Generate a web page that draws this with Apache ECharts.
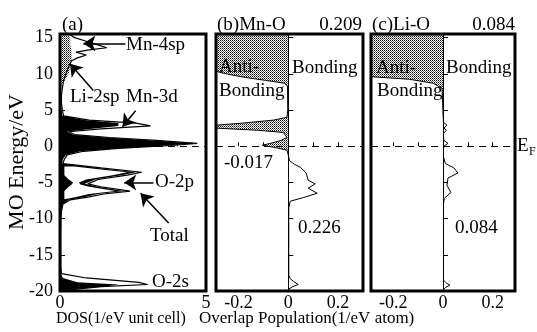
<!DOCTYPE html>
<html>
<head>
<meta charset="utf-8">
<script src="https://cdn.jsdelivr.net/npm/echarts@6/dist/echarts.min.js"></script>
<style>
  html, body { margin: 0; padding: 0; background: #fff; }
  #chart { width: 537px; height: 332px; }
</style>
</head>
<body>
<div id="chart"></div>
<script>
// panel (a): DOS, energy grid (eV) and curves (1/eV unit cell)
const energyA = [15.5, 15, 14.5, 14, 13.6, 13.3, 13, 12.6, 12.2, 11.8, 11, 10, 9, 8, 7, 6, 5, 4.2, 3.6, 3.2,
  2.8, 2.4, 2.0, 1.6, 1.2, 0.8, 0.4, 0.1, -0.3, -0.7, -1.2, -1.8, -2.4, -3.0, -3.6, -4.0, -4.6, -5.2, -5.6, -6.2,
  -6.6, -7.0, -7.4, -8, -9, -10, -12, -14, -16, -17, -17.6, -18.2, -18.8, -19.1, -19.4, -19.8, -20];
const totalDos = [0.3, 0.5, 0.9, 1.3, 1.6, 1.0, 0.55, 0.9, 0.6, 0.4, 0.3, 0.2, 0.12, 0.08, 0.05, 0.05, 0.08, 0.12, 1.0, 2.6,
  3.1, 1.4, 0.3, 0.5, 1.7, 3.3, 4.7, 3.8, 2.0, 0.8, 0.25, 0.15, 0.1, 1.4, 2.8, 2.3, 1.3, 0.95, 1.4, 2.4,
  1.5, 1.0, 0.35, 0.1, 0.05, 0.03, 0.02, 0.02, 0.02, 0.03, 0.05, 0.9, 2.7, 3.0, 1.4, 0.4, 0.1];
const pdosBlack = [0.12, 0.12, 0.12, 0.12, 0.12, 0.12, 0.12, 0.1, 0.1, 0.1, 0.08, 0.06, 0.05, 0.04, 0.03, 0.03, 0.05, 0.08, 0.9, 2.0,
  2.0, 1.1, 0.25, 0.45, 1.6, 3.2, 4.6, 3.7, 1.9, 0.7, 0.2, 0.1, 0.08, 1.3, 2.6, 2.1, 1.2, 0.85, 1.3, 2.2,
  1.3, 0.85, 0.3, 0.08, 0.04, 0.02, 0.02, 0.02, 0.02, 0.02, 0.02, 0.1, 0.6, 2.0, 1.5, 0.3, 0.1];
// white interior of the O-2p band
const holeEnergy = [-2.8, -3.2, -3.6, -4.0, -4.6, -5.0, -5.3, -5.6, -6.2, -6.6, -7.0, -7.3];
const holeLo = [0.15, 0.15, 0.15, 0.15, 0.3, 0.45, 0.4, 0.3, 0.15, 0.15, 0.15, 0.15];
const holeHi = [0.5, 1.4, 2.3, 1.8, 0.9, 0.65, 0.7, 1.0, 1.9, 1.0, 0.55, 0.2];
// Li-2sp (dotted)
const liEnergy = [15.5, 15, 14, 13, 12, 11, 10, 9, 8.2];
const li2spDos = [0.3, 0.35, 0.35, 0.4, 0.4, 0.35, 0.3, 0.15, 0.02];

// panel (b): Mn-O overlap population
const energyB = [15.5, 10.4, 10.2, 9.8, 9.5, 9.1, 8.7, 8.3, 5.0, 4.0, 3.6, 3.2, 2.9, 2.5, 2.2, 1.9, 1.2, 0.8, 0.4, 0.14,
  -0.2, -0.55, -1.2, -2.0, -2.5, -2.9, -3.7, -4.7, -5.2, -5.8, -6.5, -7.1, -7.6, -8.5, -17.8, -18.3, -18.7, -19.1, -19.4, -19.7, -20];
const coopMnO = [-0.29, -0.29, -0.276, -0.22, -0.172, -0.092, -0.016, -0.003, -0.002, -0.005, -0.06, -0.18, -0.29, -0.29, -0.12, -0.02, -0.005, -0.03, -0.07, -0.104,
  -0.05, -0.005, 0.0, 0.005, 0.025, 0.048, 0.072, 0.08, 0.108, 0.08, 0.116, 0.06, 0.008, 0.002, 0.002, 0.008, 0.022, 0.04, 0.018, 0.003, 0];

// panel (c): Li-O overlap population
const energyC = [15.5, 9.6, 9.25, 8.7, 8.0, 3.3, 2.9, 2.5, 2.2, 1.8, 0.8, 0.4, 0.0, -0.4, -1.5, -2.4, -3.0, -3.7, -4.4, -5.4,
  -6.4, -7.2, -8.0, -18.5, -18.9, -19.2, -19.5, -19.8, -20];
const coopLiO = [-0.29, -0.29, -0.136, -0.04, -0.004, 0.002, 0.016, 0.004, 0.014, 0.002, 0.003, 0.02, 0.004, 0.002, 0.002, 0.01, 0.044, 0.06, 0.02, 0.016,
  0.032, 0.005, 0.002, 0.002, 0.014, 0.028, 0.01, 0.002, 0];

const energyTicks = [-20, -15, -10, -5, 0, 5, 10, 15];
const coopTicks = [-0.2, 0, 0.2];
const coopMinor = [-0.2, -0.1, 0, 0.1, 0.2];

// arrows in panel (a), [DOS, eV]
const arrows = [
  { from: [2.24, 14.2], to: [0.8, 14.2] },   // Mn-4sp
  { from: [1.14, 7.7], to: [0.34, 11.4] },   // Li-2sp
  { from: [2.59, 4.9], to: [2.14, 2.7] },    // Mn-3d
  { from: [3.2, -5.0], to: [2.2, -5.0] },    // O-2p
  { from: [3.72, -10.6], to: [2.76, -6.5] }  // Total
];

const FONT = '"Liberation Serif", "Times New Roman", serif';

const pat = document.createElement("canvas");
pat.width = 2;
pat.height = 2;
const pctx = pat.getContext("2d");
pctx.fillStyle = "#fff";
pctx.fillRect(0, 0, 2, 2);
pctx.fillStyle = "#000";
pctx.fillRect(0, 0, 1, 1);
pctx.fillStyle = "#666";
pctx.fillRect(1, 1, 1, 1);
const dotted = { image: pat, repeat: "repeat" };

function areaSeries(grid, energies, lo, hi, fill, z) {
  return {
    type: "custom",
    xAxisIndex: grid,
    yAxisIndex: grid,
    clip: true,
    silent: true,
    z: z,
    data: energies.map((e, i) => [hi[i], e]),
    renderItem: function (params, api) {
      if (params.dataIndex !== 0) return null;
      const pts = [];
      energies.forEach((e, i) => pts.push(api.coord([hi[i], e])));
      for (let i = energies.length - 1; i >= 0; i--) pts.push(api.coord([lo ? lo[i] : 0, energies[i]]));
      return { type: "polygon", shape: { points: pts }, style: { fill: fill, stroke: null } };
    }
  };
}

function curve(grid, energies, vals, width, extra) {
  return Object.assign({
    type: "line",
    xAxisIndex: grid,
    yAxisIndex: grid,
    data: energies.map((e, i) => [vals[i], e]),
    symbol: "none",
    silent: true,
    clip: true,
    z: 5,
    lineStyle: { color: "#000", width: width }
  }, extra || {});
}

const refLines = (withZero) => ({
  symbol: "none",
  silent: true,
  label: { show: false },
  lineStyle: { color: "#000", width: 1 },
  data: (withZero ? [{ xAxis: 0, lineStyle: { type: "solid" } }] : []).concat([{ yAxis: 0, lineStyle: { type: [7, 5] } }])
});

const xBase = {
  type: "value",
  axisLine: { show: false },
  splitLine: { show: false },
  axisLabel: { color: "#000", fontSize: 18, fontFamily: FONT, margin: 3 },
  axisTick: { inside: true, length: 4, lineStyle: { color: "#000" } }
};
const yBase = {
  type: "value",
  min: -20,
  max: 15.5,
  axisLine: { show: false },
  splitLine: { show: false },
  axisTick: { inside: true, length: 5, customValues: energyTicks, lineStyle: { color: "#000" } }
};

const grids = [
  { left: 60, top: 34, width: 146, height: 257 },
  { left: 216, top: 34, width: 147, height: 257 },
  { left: 371, top: 34, width: 144, height: 257 }
].map((g) => Object.assign(g, { show: true, z: 10, borderColor: "#000", borderWidth: 3, backgroundColor: "transparent" }));

const texts = [
  ["(a)", 62, 25, "left"], ["(b)Mn-O", 217, 25, "left"], ["0.209", 362, 25, "right"],
  ["(c)Li-O", 372, 25, "left"], ["0.084", 515, 25, "right"],
  ["Mn-4sp", 126, 45, "left"], ["Li-2sp", 70, 97, "left"], ["Mn-3d", 126, 97, "left"],
  ["O-2p", 155, 182, "left"], ["Total", 150, 236, "left"], ["O-2s", 152, 282, "left"],
  ["Anti-", 219, 67, "left"], ["Bonding", 219, 91, "left"], ["Bonding", 292, 68, "left"],
  ["-0.017", 224, 163, "left"], ["0.226", 298, 228, "left"],
  ["Anti-", 376, 68, "left"], ["Bonding", 377, 91, "left"], ["Bonding", 446, 68, "left"],
  ["0.084", 455, 228, "left"]
].map(([t, x, y, a]) => ({
  type: "text", x: x, y: y, z: 100, silent: true,
  style: { text: t, font: "19px " + FONT, fill: "#000", align: a, textAlign: a, verticalAlign: "middle", textVerticalAlign: "middle" }
}));
[["DOS(1/eV unit cell)", 56, 16], ["Overlap Population(1/eV atom)", 199, 17]].forEach(([t, x, fs]) => texts.push({
  type: "text", x: x, y: 319, z: 100, silent: true,
  style: { text: t, font: fs + "px " + FONT, fill: "#000", align: "left", textAlign: "left", verticalAlign: "middle", textVerticalAlign: "middle" }
}));
texts.push({
  type: "text", x: 17, y: 162, rotation: Math.PI / 2, z: 100, silent: true,
  style: { text: "MO Energy/eV", font: "22px " + FONT, fill: "#000", align: "center", textAlign: "center", verticalAlign: "middle", textVerticalAlign: "middle" }
});
texts.push({ type: "text", x: 517, y: 146, z: 100, silent: true,
  style: { text: "E", font: "19px " + FONT, fill: "#000", align: "left", textAlign: "left", verticalAlign: "middle", textVerticalAlign: "middle" } });
texts.push({ type: "text", x: 529, y: 152, z: 100, silent: true,
  style: { text: "F", font: "12px " + FONT, fill: "#000", align: "left", textAlign: "left", verticalAlign: "middle", textVerticalAlign: "middle" } });

const option = {
  animation: false,
  backgroundColor: "#fff",
  textStyle: { fontFamily: FONT },
  grid: grids,
  xAxis: [
    Object.assign({}, xBase, { gridIndex: 0, min: 0, max: 5, interval: 5,
      minorTick: { show: true, splitNumber: 5, length: 3, lineStyle: { color: "#000" } } }),
    Object.assign({}, xBase, { gridIndex: 1, min: -0.29, max: 0.3,
      axisLabel: Object.assign({}, xBase.axisLabel, { customValues: coopTicks }),
      axisTick: Object.assign({}, xBase.axisTick, { customValues: coopMinor }) }),
    Object.assign({}, xBase, { gridIndex: 2, min: -0.29, max: 0.29,
      axisLabel: Object.assign({}, xBase.axisLabel, { customValues: coopTicks }),
      axisTick: Object.assign({}, xBase.axisTick, { customValues: coopMinor }) })
  ],
  yAxis: [
    Object.assign({}, yBase, { gridIndex: 0,
      axisLabel: { color: "#000", fontSize: 18, fontFamily: FONT, margin: 7, customValues: energyTicks } }),
    Object.assign({}, yBase, { gridIndex: 1, axisLabel: { show: false } }),
    Object.assign({}, yBase, { gridIndex: 2, axisLabel: { show: false } })
  ],
  graphic: texts,
  series: [
    areaSeries(0, energyA, null, pdosBlack, "#000", 1),
    areaSeries(0, holeEnergy, holeLo, holeHi, "#fff", 2),
    areaSeries(0, liEnergy, null, li2spDos, dotted, 3),
    curve(0, energyA, totalDos, 1.2, { markLine: refLines(false) }),
    {
      type: "line", xAxisIndex: 0, yAxisIndex: 0, data: [], silent: true, z: 6,
      markLine: {
        symbol: ["none", "arrow"], symbolSize: 12, silent: true, label: { show: false },
        lineStyle: { color: "#000", width: 1.5, type: "solid" },
        data: arrows.map((a) => [{ coord: a.from }, { coord: a.to }])
      }
    },
    areaSeries(1, energyB, null, coopMnO.map((v) => Math.min(v, 0)), dotted, 1),
    curve(1, energyB, coopMnO, 1, { markLine: refLines(true) }),
    areaSeries(2, energyC, null, coopLiO.map((v) => Math.min(v, 0)), dotted, 1),
    curve(2, energyC, coopLiO, 1, { markLine: refLines(true) })
  ]
};

const chart = echarts.init(document.getElementById("chart"), null, { renderer: "canvas" });
chart.setOption(option);
</script>
</body>
</html>
